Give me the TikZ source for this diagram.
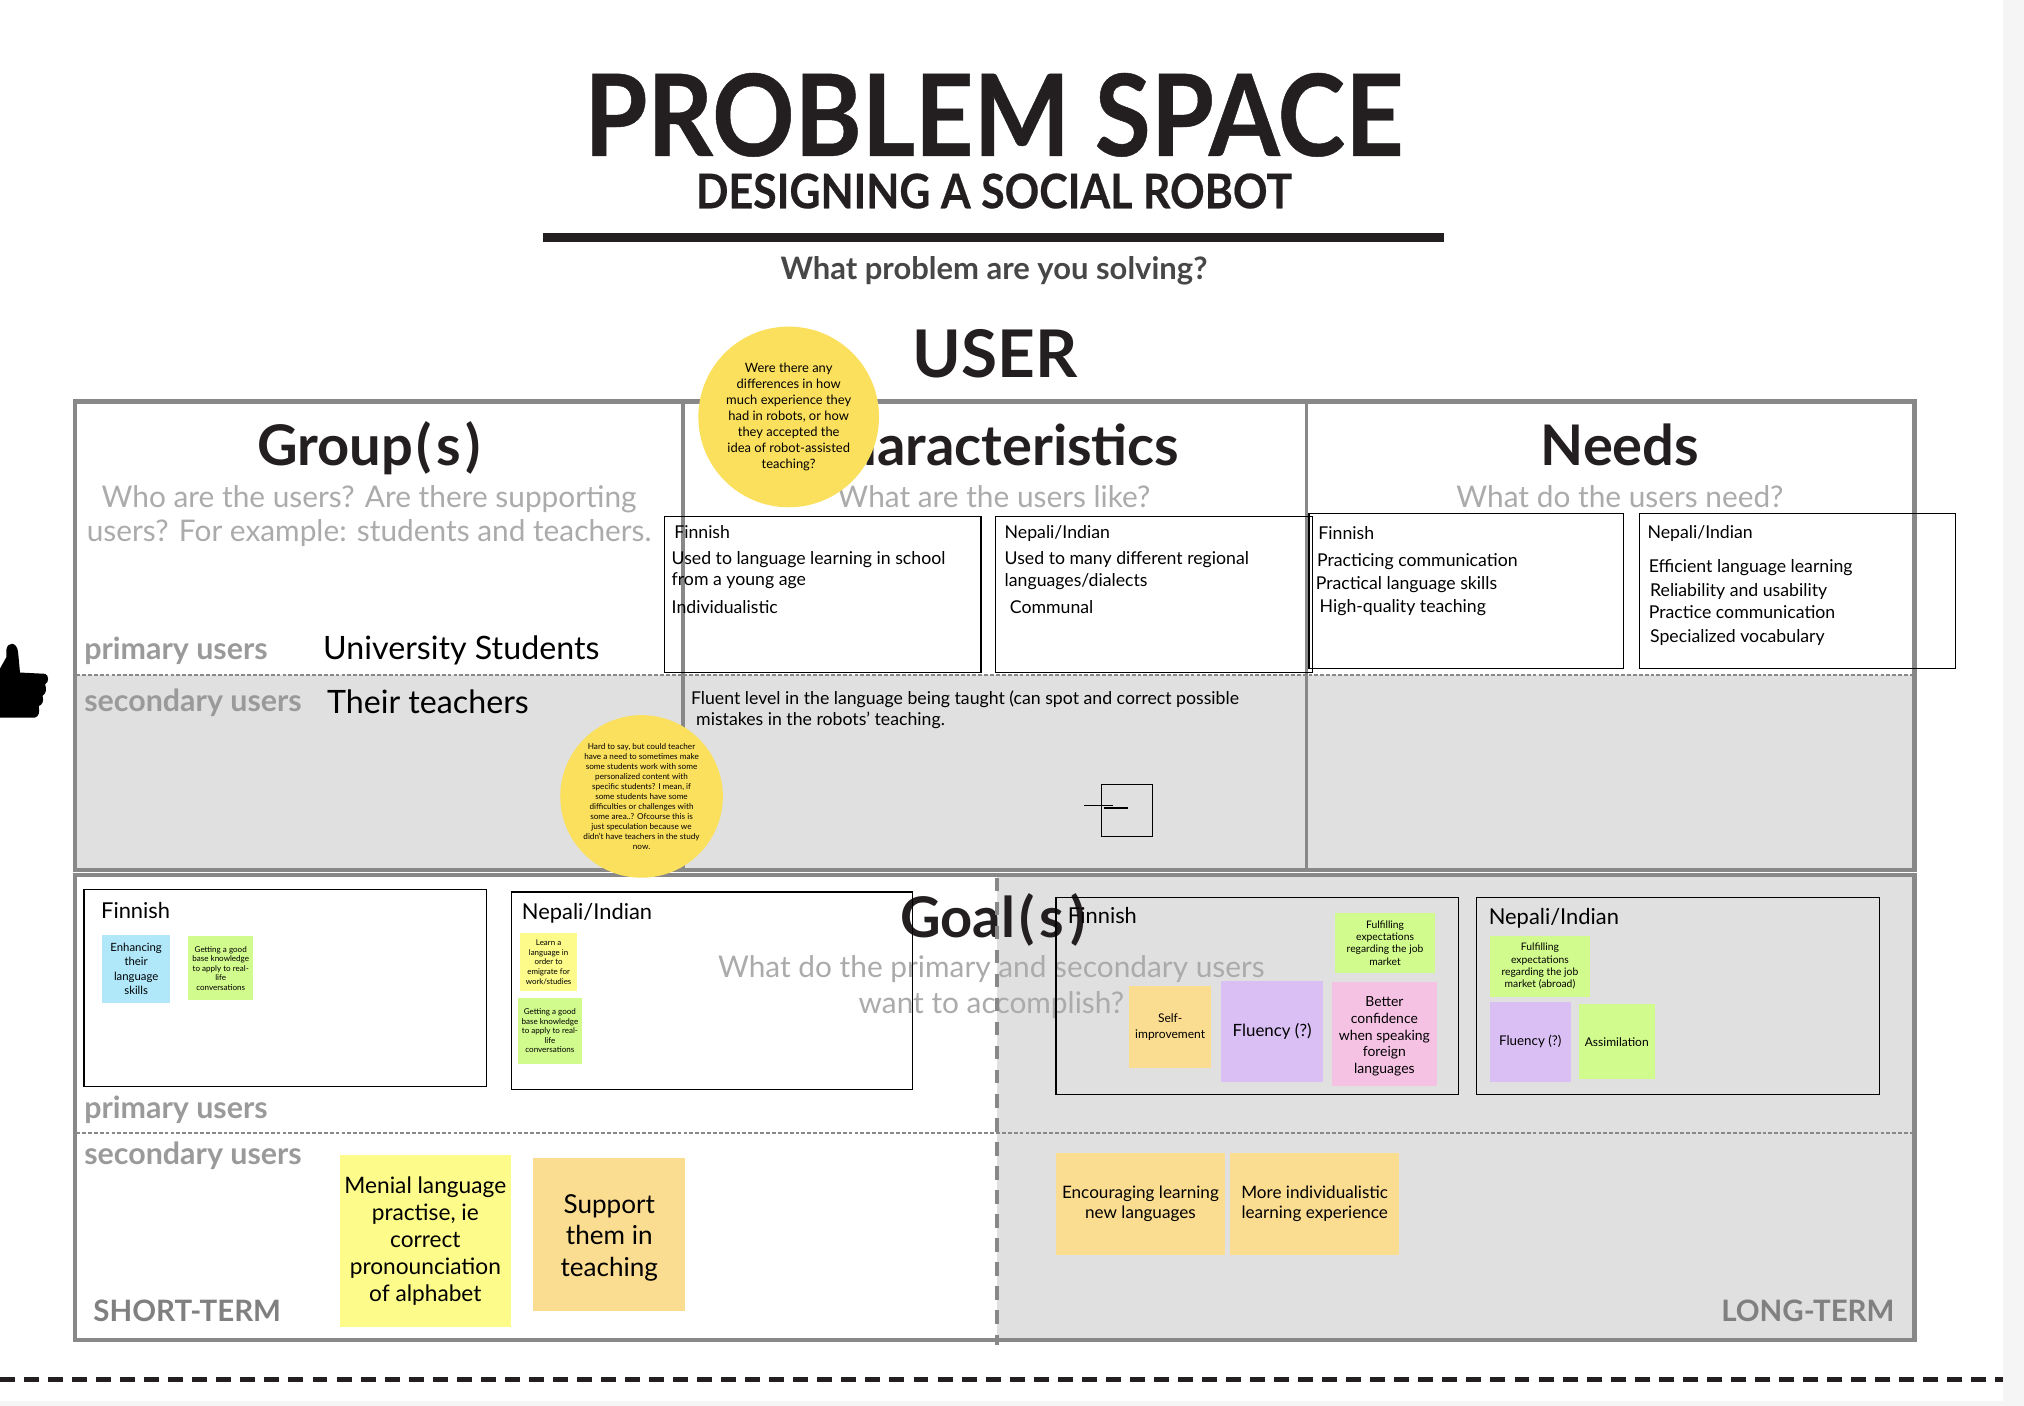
\documentclass[tikz,border=0pt]{standalone}
\usepackage{fontspec}
\setmainfont{Lato}
\newfontfamily\titlefont[FakeStretch=0.9,FakeBold=0.4]{Lato}
\usepackage{xcolor}
\usetikzlibrary{positioning}
\definecolor{framegrey}{HTML}{888888}
\definecolor{panelgrey}{HTML}{E0E0E0}
\definecolor{hintgrey}{HTML}{ABABAB}
\definecolor{inkdark}{HTML}{231F20}
\definecolor{circleyellow}{HTML}{FBE05E}
\definecolor{notegreen}{HTML}{D2FB8E}
\definecolor{noteblue}{HTML}{B0E8FA}
\definecolor{noteyellow}{HTML}{FDFB8A}
\definecolor{noteorange}{HTML}{FBDD92}
\definecolor{notepurple}{HTML}{DABFF5}
\definecolor{notepink}{HTML}{F5C2E4}
\tikzset{
	heading/.style={text=inkdark,font=\bfseries\fontsize{24.7}{28}\selectfont,inner sep=0pt},
	hint/.style={text=hintgrey,font=\fontsize{13.15}{15}\selectfont,inner sep=0pt},
	role/.style={text=hintgrey!90!black,font=\bfseries\fontsize{13.4}{15}\selectfont,inner sep=0pt,anchor=west},
	body/.style={text=black,font=\fontsize{7.8}{9}\selectfont,inner sep=0pt,anchor=west},
	label/.style={text=black,font=\fontsize{9.65}{11}\selectfont,inner sep=0pt,anchor=west},
	bigtext/.style={text=black,font=\fontsize{14.2}{17}\selectfont,inner sep=0pt,anchor=west},
	databox/.style={draw=black,line width=.5pt,inner sep=0pt},
	sticky/.style={inner sep=0pt,align=center,text=black},
	bubble/.style={circle,fill=circleyellow,inner sep=0pt,align=center,text=black},
	divider/.style={draw=framegrey,line width=.9pt,dash pattern=on 1.7pt off .9pt},
}
\begin{document}
\begin{tikzpicture}[x=0.02cm,y=-0.02cm]
	\useasboundingbox (0,0) rectangle (1568,1089.2);
	\fill[white] (0,0) rectangle (1568,1089.2);
	\fill[black!4] (1552,0) rectangle (1568,1089.2);
	\fill[black!4] (0,1085) rectangle (1568,1089.2);

	% panels
	\fill[panelgrey] (58,523) rectangle (1483,674);
	\fill[panelgrey] (772,678) rectangle (1483,1038);

	% title
	\node[text=inkdark,font=\titlefont\bfseries\fontsize{50}{60}\selectfont,inner sep=0pt] (title) at (770,89) {PROBLEM SPACE};
	\node[text=inkdark,font=\titlefont\bfseries\fontsize{21}{25}\selectfont,inner sep=0pt] (subtitle) at (770,148) {DESIGNING A SOCIAL ROBOT};
	\coordinate (ruleL) at (421,184);
	\coordinate (ruleR) at (1119,184);
	\draw[inkdark,line width=4pt] (ruleL) -- (ruleR);
	\node[text=black!72,font=\bfseries\fontsize{13.65}{16}\selectfont,inner sep=0pt] (question) at (770,210) {What problem are you solving?};
	\node[text=inkdark,font=\bfseries\fontsize{29}{34}\selectfont,inner sep=0pt] (user) at (771,274) {USER};

	% user frame
	\draw[framegrey,line width=2pt] (58,311) rectangle (1483,674);
	\draw[framegrey,line width=1.6pt] (529,311) -- (529,674);
	\draw[framegrey,line width=1.6pt] (1012,311) -- (1012,674);
	\draw[divider] (59,523) -- (1483,523);

	\node[heading] (groups) at (286,347) {Group\kern1.5pt(\kern2pt s\kern2pt)};
	\node[heading] (characteristics) at (770,345) {Characteristics};
	\node[heading] (needs) at (1255,345) {Needs};
	\node[hint] (groupsA) at (286,387) {Who are the users? Are there supporting};
	\node[hint] (groupsB) at (286,413) {users? For example: students and teachers.};
	\node[hint] (charsA) at (770,385) {What are the users like?};
	\node[hint] (needsA) at (1255,385) {What do the users need?};

	\node[role] (primaryA) at (65,504) {primary users};
	\node[role] (secondaryA) at (65,544.5) {secondary users};
	\node[bigtext] (students) at (250,504) {University Students};
	\node[bigtext] (teachers) at (253,544) {Their teachers};

	% user boxes
	\node[databox,minimum width=4.9cm,minimum height=2.42cm] (charsFi) at (637.5,460.5) {};
	\node[databox,minimum width=4.92cm,minimum height=2.42cm] (charsNe) at (894,460.5) {};
	\node[databox,minimum width=4.88cm,minimum height=2.4cm] (needsFi) at (1136,458) {};
	\node[databox,minimum width=4.9cm,minimum height=2.4cm] (needsNe) at (1392.5,458) {};

	\node[body] (cf0) at (522,412) {Finnish};
	\node[body] (cf1) at (520,433.5) {Used to language learning in school};
	\node[body] (cf2) at (520,450) {from a young age};
	\node[body] (cf3) at (520,470.5) {Individualistic};
	\node[body] (cn0) at (778,413) {Nepali/Indian};
	\node[body] (cn1) at (778,433.5) {Used to many different regional};
	\node[body] (cn2) at (778,450.5) {languages/dialects};
	\node[body] (cn3) at (782,470.5) {Communal};
	\node[body] (nf0) at (1021,413) {Finnish};
	\node[body] (nf1) at (1020,435) {Practicing communication};
	\node[body] (nf2) at (1019,453) {Practical language skills};
	\node[body] (nf3) at (1022,470.5) {High-quality teaching};
	\node[body] (nn0) at (1276,413) {Nepali/Indian};
	\node[body] (nn1) at (1277,439.5) {Efficient language learning};
	\node[body] (nn2) at (1278,458) {Reliability and usability};
	\node[body] (nn3) at (1277,474.5) {Practice communication};
	\node[body] (nn4) at (1278,494) {Specialized vocabulary};
	\node[body] (fluentA) at (535,541.5) {Fluent level in the language being taught (can spot and correct possible};
	\node[body] (fluentB) at (539,558) {mistakes in the robots' teaching.};

	% stray box
	\node[databox,minimum width=.8cm,minimum height=.8cm] (stray) at (873,628) {};
	\coordinate (strayA) at (840,624);
	\coordinate (strayB) at (862,624);
	\coordinate (strayC) at (855,626);
	\coordinate (strayD) at (874,626);
	\draw[black,line width=.5pt] (strayA) -- (strayB);
	\draw[black,line width=.5pt] (strayC) -- (strayD);

	% goals frame
	\draw[framegrey,line width=2pt] (58,678) rectangle (1483,1038);
	\draw[divider] (59,878) -- (1483,878);

	\node[heading] (goals) at (769,713) {Goal\kern1.8pt(\kern2.4pt s\kern2.4pt)};
	\node[hint] (goalsA) at (768,750.5) {What do the primary and secondary users};
	\node[hint] (goalsB) at (768,778.5) {want to accomplish?};
	\draw[framegrey,line width=1.76pt,dash pattern=on 5.9pt off 4.7pt] (772,680) -- (772,1042);

	\node[role] (primaryB) at (65,860) {primary users};
	\node[role] (secondaryB) at (65,895) {secondary users};
	\node[role,text=black!50,font=\bfseries\fontsize{13}{15}\selectfont] (shortterm) at (72,1015.5) {SHORT-TERM};
	\node[role,text=black!50,font=\bfseries\fontsize{13}{15}\selectfont,anchor=east] (longterm) at (1468,1015.5) {LONG-TERM};

	\node[databox,minimum width=6.24cm,minimum height=3.06cm] (goalFi) at (221,765.5) {};
	\node[databox,minimum width=6.22cm,minimum height=3.06cm] (goalNe) at (551.5,767.5) {};
	\node[databox,minimum width=6.24cm,minimum height=3.06cm] (goalFiB) at (974,771.5) {};
	\node[databox,minimum width=6.24cm,minimum height=3.06cm] (goalNeB) at (1300,771.5) {};
	\node[label] (goalFiT) at (78,705.5) {Finnish};
	\node[label] (goalNeT) at (404,707.5) {Nepali/Indian};
	\node[label] (goalFiBT) at (827,709.5) {Finnish};
	\node[label] (goalNeBT) at (1153,711.5) {Nepali/Indian};

	% stickies
	\node[sticky,fill=noteblue,minimum width=1.06cm,minimum height=1.06cm,font=\fontsize{5}{6.3}\selectfont] (enhancing) at (105.5,750.5) {Enhancing\\their\\language\\skills};
	\node[sticky,fill=notegreen,minimum width=1cm,minimum height=1cm,font=\fontsize{3.55}{4.2}\selectfont] (baseFi) at (171,750) {Getting a good\\base knowledge\\to apply to real-\\life\\conversations};
	\node[sticky,fill=noteyellow,minimum width=.88cm,minimum height=.9cm,font=\fontsize{3.5}{4.2}\selectfont] (emigrate) at (425,745.5) {Learn a\\language in\\order to\\emigrate for\\work/studies};
	\node[sticky,fill=notegreen,minimum width=1cm,minimum height=1.02cm,font=\fontsize{3.55}{4.2}\selectfont] (baseNe) at (426,798.5) {Getting a good\\base knowledge\\to apply to real-\\life\\conversations};
	\node[sticky,fill=notegreen,minimum width=1.56cm,minimum height=.94cm,font=\fontsize{4.55}{5.4}\selectfont] (jobFi) at (1073,730.5) {Fulfilling\\expectations\\regarding the job\\market};
	\node[sticky,fill=noteorange,minimum width=1.26cm,minimum height=1.26cm,font=\fontsize{5.3}{6.9}\selectfont] (selfimp) at (906.5,795.5) {Self-\\improvement};
	\node[sticky,fill=notepurple,minimum width=1.58cm,minimum height=1.56cm,font=\fontsize{7.45}{9}\selectfont] (fluencyFi) at (985.5,799) {Fluency (?)};
	\node[sticky,fill=notepink,minimum width=1.62cm,minimum height=1.6cm,font=\fontsize{6.15}{7.4}\selectfont] (confidence) at (1072.5,801) {\rule{0pt}{6.6pt}Better\\confidence\\when speaking\\foreign\\languages};
	\node[sticky,fill=notegreen,minimum width=1.56cm,minimum height=.94cm,font=\fontsize{4.55}{5.4}\selectfont] (jobNe) at (1193,748.5) {Fulfilling\\expectations\\regarding the job\\market (abroad)};
	\node[sticky,fill=notepurple,minimum width=1.26cm,minimum height=1.24cm,font=\fontsize{5.9}{7}\selectfont] (fluencyNe) at (1185.5,807) {Fluency (?)};
	\node[sticky,fill=notegreen,minimum width=1.18cm,minimum height=1.16cm,font=\fontsize{5.3}{7}\selectfont] (assimilation) at (1252.5,807) {Assimilation};
	\node[sticky,fill=noteyellow,minimum width=2.66cm,minimum height=2.66cm,font=\fontsize{10}{12}\selectfont] (menial) at (329.5,961.5) {Menial language\\practise, ie\\correct\\pronounciation\\of alphabet};
	\node[sticky,fill=noteorange,minimum width=2.36cm,minimum height=2.38cm,font=\fontsize{11.5}{14}\selectfont] (support) at (472,956.5) {\rule{0pt}{11pt}Support\\them in\\teaching};
	\node[sticky,fill=noteorange,minimum width=2.62cm,minimum height=1.58cm,font=\fontsize{7.55}{9.1}\selectfont] (encourage) at (883.5,932.5) {Encouraging learning\\new languages};
	\node[sticky,fill=noteorange,minimum width=2.62cm,minimum height=1.58cm,font=\fontsize{7.55}{9.1}\selectfont] (individual) at (1018.5,932.5) {More individualistic\\learning experience};

	% comment circles
	\node[bubble,minimum size=2.8cm,font=\fontsize{5.7}{7}\selectfont] (robotsQ) at (611,323) {Were there any\\differences in how\\much experience they\\had in robots, or how\\they accepted the\\idea of robot-assisted\\teaching?};
	\node[bubble,minimum size=2.52cm,font=\fontsize{3.6}{4.4}\selectfont] (teachersQ) at (497,617) {Hard to say, but could teacher\\have a need to sometimes make\\some students work with some\\personalized content with\\specific students? I mean, if\\some students have some\\difficulties or challenges with\\some area..? Ofcourse this is\\just speculation because we\\didn't have teachers in the study\\now.};

	% thumb
	\fill[black] (0,556) -- (0,518) -- (5,509) -- (5,503) .. controls (6,497) and (13,497) .. (14,505) -- (15.5,521) -- (35,522) .. controls (38,523) and (38,529) .. (35,530) .. controls (36,534) and (36,537) .. (33,539) .. controls (34,543) and (33,546) .. (30,547) .. controls (31,552) and (30,555) .. (27,556) -- cycle;

	% bottom dashes
	\coordinate (dashL) at (0,1069);
	\coordinate (dashR) at (1552,1069);
	\draw[inkdark,line width=2.2pt,dash pattern=on 6.6pt off 4pt] (dashL) -- (dashR);
\end{tikzpicture}
\end{document}
